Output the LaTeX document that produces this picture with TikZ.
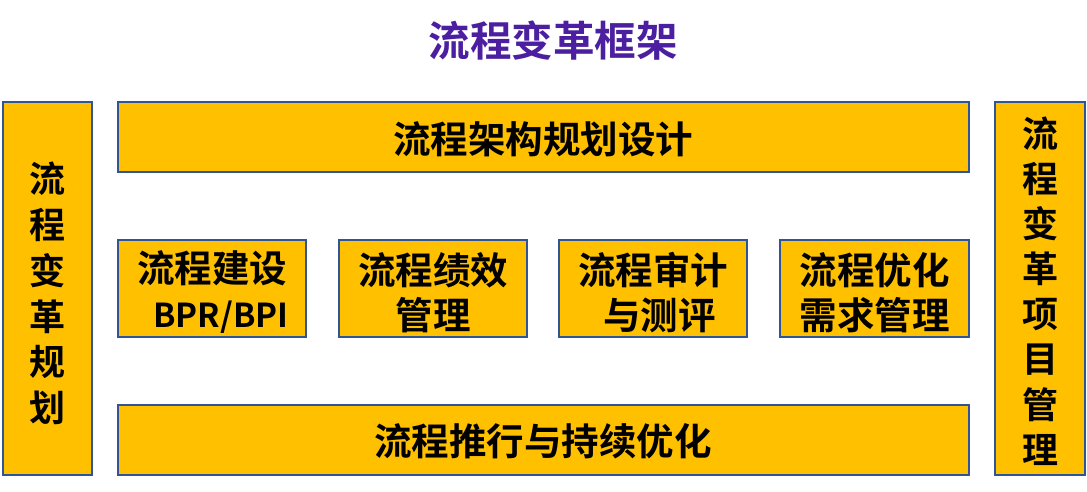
\documentclass[tikz,border=0pt]{standalone}
\usepackage{fontspec}
\newfontfamily\cjk{Noto Sans CJK SC}[BoldFont={Noto Sans CJK SC Bold}]
\definecolor{boxfill}{HTML}{FFC000}
\definecolor{boxline}{HTML}{2F5597}
\definecolor{titlec}{HTML}{4B1FA0}
\begin{document}
\begin{tikzpicture}[x=1pt,y=-1pt,
  blk/.style={draw=boxline,line width=2pt,fill=boxfill},
  lbl/.style={font=\cjk\bfseries\fontsize{37.5}{45}\selectfont,text=black,align=center},
  vlbl/.style={font=\cjk\bfseries\fontsize{36}{45.8}\selectfont,text=black,align=center}]
\useasboundingbox (0,0) rectangle (1087,492);
\fill[white] (0,0) rectangle (1087,492);
\node[font=\cjk\bfseries\fontsize{41.5}{45}\selectfont,text=titlec] (title) at (553,41) {流程变革框架};
\draw[blk] (3,102) rectangle (92,475);
\draw[blk] (118,102) rectangle (969,172);
\draw[blk] (118,405) rectangle (969,475);
\draw[blk] (995,102) rectangle (1085,475);
\draw[blk] (118,240) rectangle (306,337);
\draw[blk] (339,240) rectangle (527,337);
\draw[blk] (559,240) rectangle (747,337);
\draw[blk] (780,240) rectangle (969,337);
\node[vlbl] (left) at (47.5,293.5) {流\\程\\变\\革\\规\\划};
\node[vlbl,font=\cjk\bfseries\fontsize{36}{45.1}\selectfont] (right) at (1040,291) {流\\程\\变\\革\\项\\目\\管\\理};
\node[lbl] (top) at (543,139) {流程架构规划设计};
\node[lbl] (bottom) at (543,441) {流程推行与持续优化};
\node[lbl] (m1) at (212,292.5) {流程建设\\\hspace*{18pt}{\fontsize{33}{45}\selectfont BPR/BPI}};
\node[lbl] (m2) at (433,292.5) {流程绩效\\管理};
\node[lbl] (m3) at (653,292.5) {流程审计\\\hspace*{13pt}与测评};
\node[lbl] (m4) at (874.5,292.5) {流程优化\\需求管理};
\end{tikzpicture}
\end{document}
